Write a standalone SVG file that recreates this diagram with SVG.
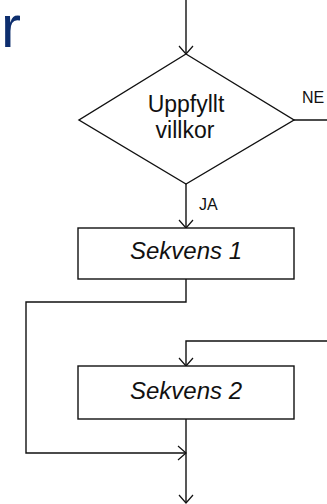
<svg xmlns="http://www.w3.org/2000/svg" width="327" height="504" viewBox="0 0 327 504">
  <defs>
    <marker id="arrow" markerUnits="userSpaceOnUse" markerWidth="20" markerHeight="20" viewBox="-10 -10 20 20" refX="0" refY="0" orient="auto">
      <path d="M -8 -7 L 0 0 L -8 7" fill="none" stroke="#111" stroke-width="1.2"/>
    </marker>
  </defs>
  <style>
    .shape { fill: #fff; stroke: #111; stroke-width: 1.4; }
    .line { fill: none; stroke: #111; stroke-width: 1.4; }
    .label { font-family: "Liberation Sans", Arial, sans-serif; fill: #111; }
    .big { font-size: 23px; text-anchor: middle; }
    .seq { font-size: 24px; font-style: italic; text-anchor: middle; }
    .small { font-size: 16px; }
    .title { font-family: "Liberation Sans", Arial, sans-serif; font-size: 60px; fill: #0d2e6e; }
  </style>

  <rect width="327" height="504" fill="#fff"/>

  <!-- heading fragment -->
  <text class="title" x="1" y="47">r</text>

  <!-- connectors -->
  <g id="connectors">
    <line class="line" x1="186" y1="0" x2="186" y2="54" marker-end="url(#arrow)"/>
    <line class="line" x1="294" y1="120" x2="327" y2="120"/>
    <line class="line" x1="186" y1="184" x2="186" y2="228" marker-end="url(#arrow)"/>
    <polyline class="line" points="186,279 186,302 26,302 26,453 186,453" marker-end="url(#arrow)"/>
    <polyline class="line" points="327,341 186,341 186,366" marker-end="url(#arrow)"/>
    <line class="line" x1="186" y1="419" x2="186" y2="503" marker-end="url(#arrow)"/>
    <text class="label small" x="302" y="103">NE</text>
    <text class="label small" x="199" y="210">JA</text>
  </g>

  <!-- decision -->
  <g id="decision">
    <polygon class="shape" points="186,54 294,120 186,184 79,120"/>
    <text class="label big" x="186" y="112">Uppfyllt</text>
    <text class="label big" x="185" y="138">villkor</text>
  </g>

  <!-- sequence 1 -->
  <g id="seq1">
    <rect class="shape" x="78" y="228" width="216" height="51"/>
    <text class="label seq" x="186" y="259">Sekvens 1</text>
  </g>

  <!-- sequence 2 -->
  <g id="seq2">
    <rect class="shape" x="78" y="366" width="216" height="53"/>
    <text class="label seq" x="186" y="399">Sekvens 2</text>
  </g>
</svg>
